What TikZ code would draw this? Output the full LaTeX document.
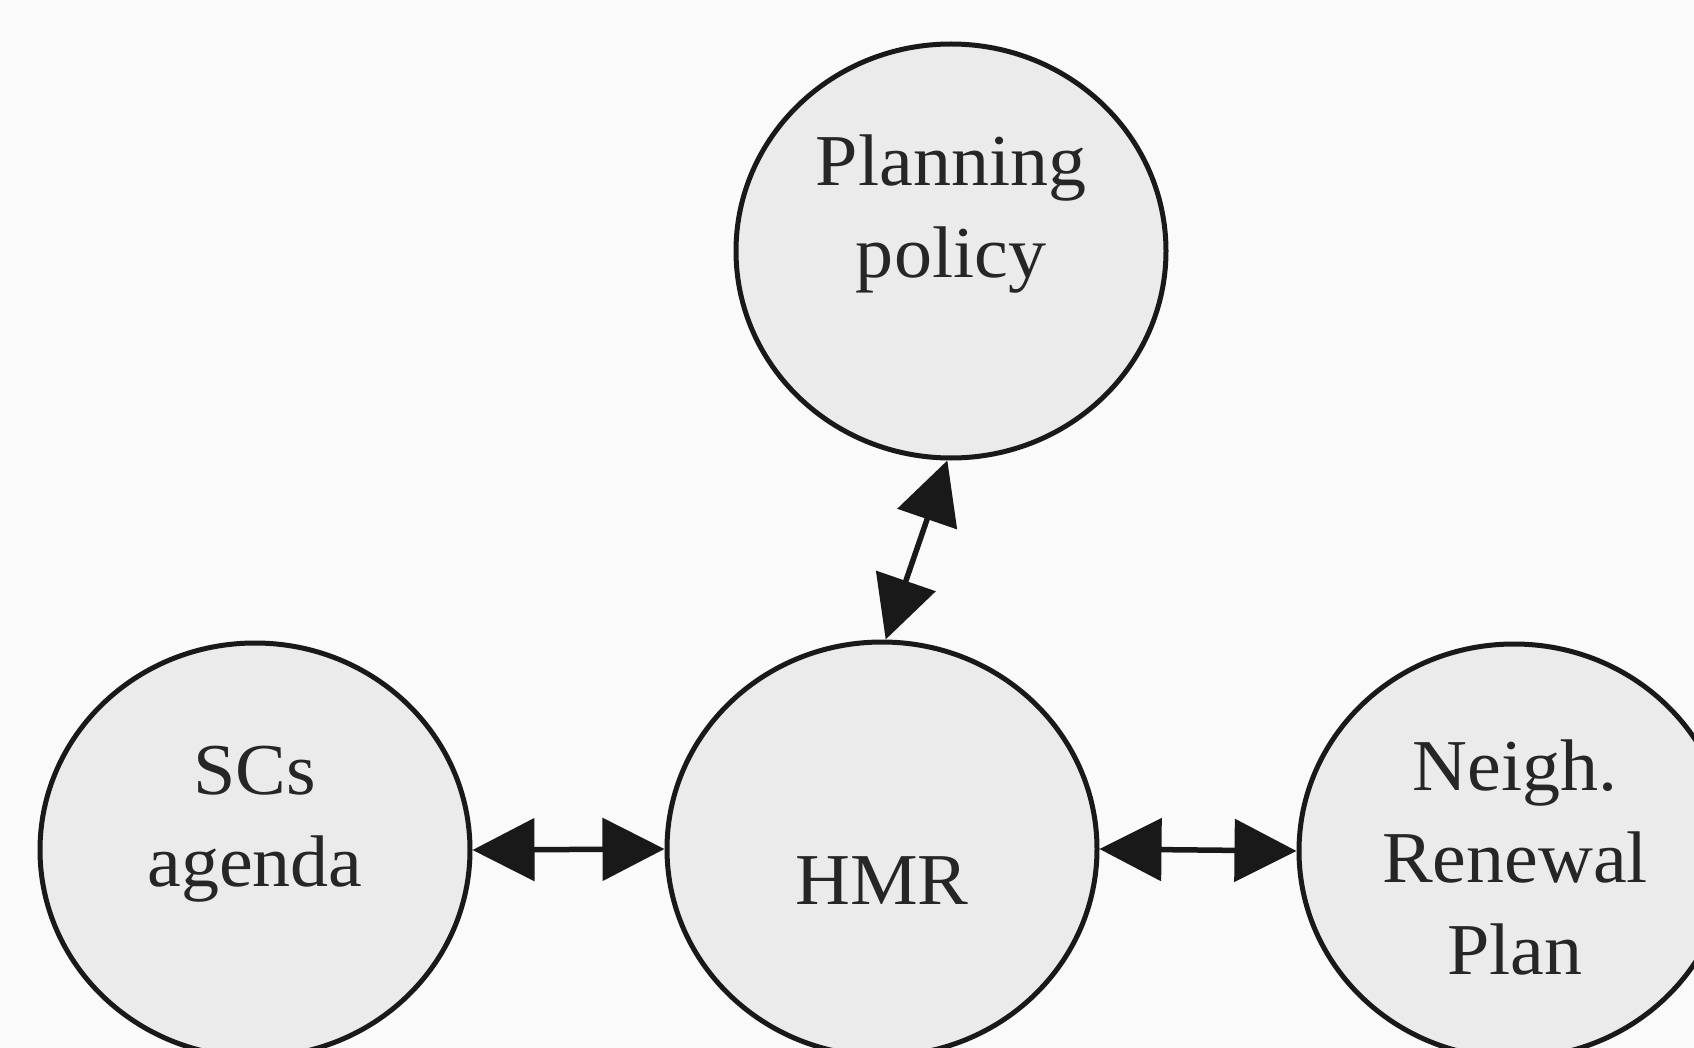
\documentclass[tikz,border=0pt]{standalone}
\usepackage{fontspec}
\setmainfont{Liberation Serif}[FakeStretch=1.04]
\usetikzlibrary{shapes.geometric,arrows.meta}

\tikzset{
  bubble/.style={ellipse, draw=black!90, line width=0.05cm, fill=black!8,
    minimum width=4.3cm, minimum height=4.14cm, inner sep=0pt},
  lbl/.style={align=center, inner sep=0pt, text=black!85,
    font=\fontsize{20.8}{26.2}\selectfont},
  link/.style={line width=0.055cm, draw=black!90,
    {Triangle[length=6.2mm,width=6.2mm]}-{Triangle[length=6.2mm,width=6.2mm]}}
}

\begin{document}
\begin{tikzpicture}
  % canvas, 1 unit = 0.01 cm per pixel column/row
  \fill[black!2] (0,0) rectangle (16.94,-10.48);
  \clip (0,0) rectangle (16.94,-10.48);

  % bubbles
  \node[bubble] (pp)  at (9.51,-2.51) {};
  \node[bubble] (sc)  at (2.55,-8.50) {};
  \node[bubble] (hmr) at (8.82,-8.49) {};
  \node[bubble] (nrp) at (15.14,-8.51) {};

  % their texts
  \node[lbl] (pptxt)  at (9.51,-2.14) {Planning\\policy};
  \node[lbl] (sctxt)  at (2.55,-8.24) {SCs\\agenda};
  \node[lbl] (hmrtxt) at (8.82,-8.81) {HMR};
  \node[lbl] (nrptxt) at (15.15,-8.575) {Neigh.\\Renewal\\Plan};

  % two-way links
  \draw[link] (pp.-91.7) -- (hmr.89.2);
  \draw[link] (sc.east) -- (hmr.west);
  \draw[link] (hmr.east) -- (nrp.west);
\end{tikzpicture}
\end{document}
